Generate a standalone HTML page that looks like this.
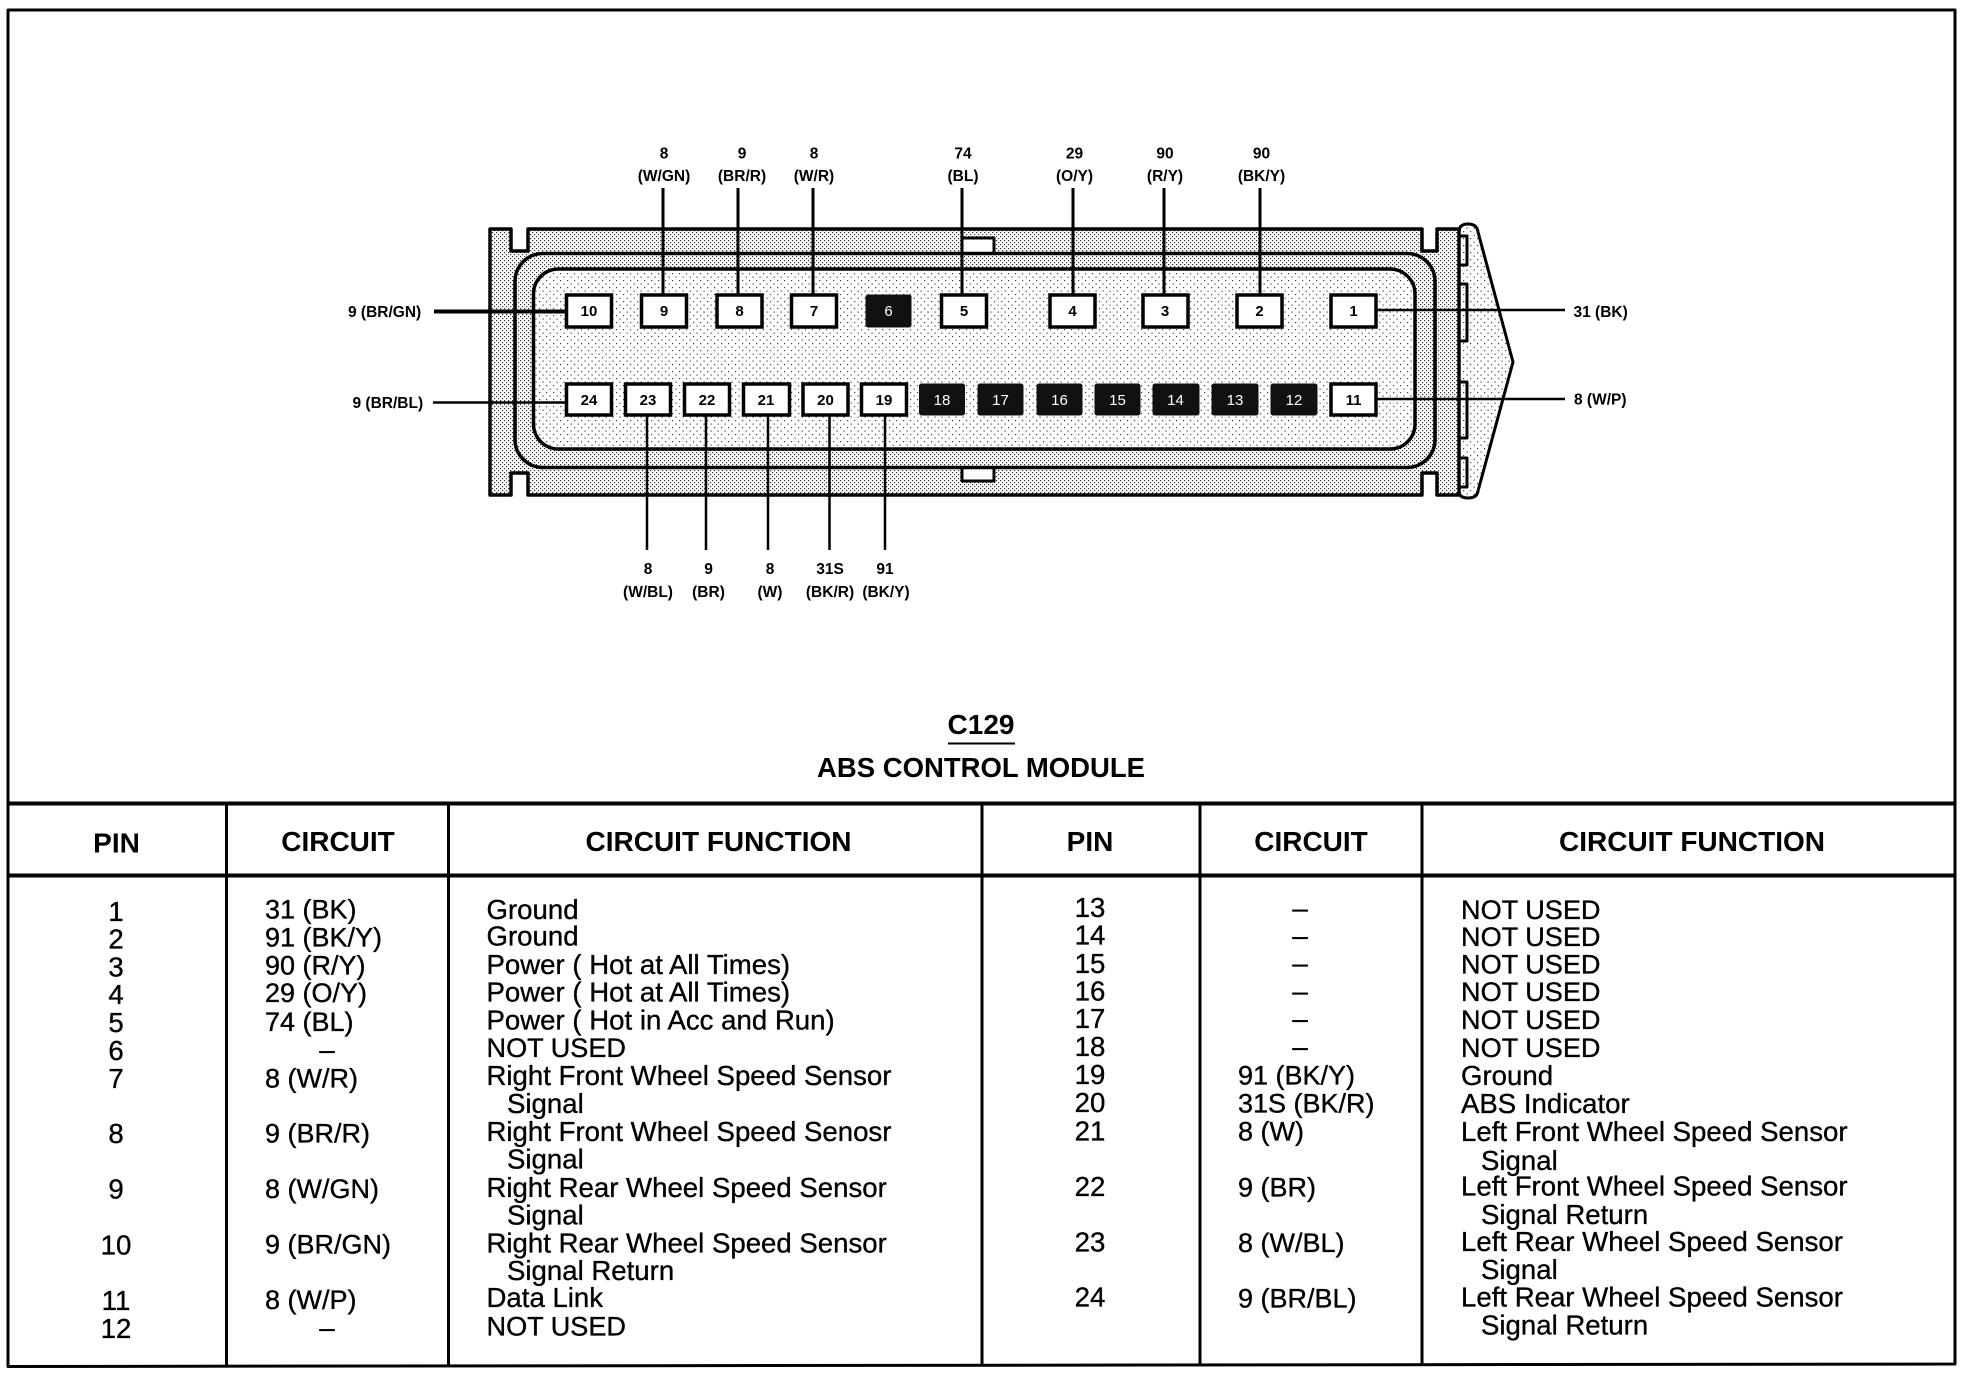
<!DOCTYPE html>
<html><head><meta charset="utf-8"><style>
html,body{margin:0;padding:0;background:#fff;width:1964px;height:1376px;overflow:hidden}
svg{display:block}
text{font-family:"Liberation Sans",sans-serif;fill:#000}
.b{font-size:27.6px;stroke:#000;stroke-width:.35}
.cc{font-size:27px}
.nu{font-size:27.1px}
.h{font-size:28px;font-weight:bold;text-anchor:middle}
.c{text-anchor:middle}
.l{font-size:15.5px;font-weight:bold;text-anchor:middle}
.ls{font-size:15.5px;font-weight:bold}
.p{font-size:15px;font-weight:bold;text-anchor:middle}
.w{font-size:15px;text-anchor:middle;fill:#fff}
.k{fill:#fff;stroke:#000;stroke-width:3.5}
.d{fill:#111;stroke:#111;stroke-width:1}
.n{fill:none;stroke:#000;stroke-linejoin:round}
</style></head><body>
<svg width="1964" height="1376" viewBox="0 0 1964 1376" xmlns="http://www.w3.org/2000/svg">
<defs>
<pattern id="dense" width="4" height="4" patternUnits="userSpaceOnUse"><rect width="4" height="4" fill="#fff"/><rect x="0" y="0" width="1.2" height="1.2" fill="#333"/><rect x="2" y="2" width="1.2" height="1.2" fill="#333"/></pattern>
<pattern id="sparse" width="7" height="7" patternUnits="userSpaceOnUse"><rect width="7" height="7" fill="#fff"/><rect x="0" y="0" width="1.2" height="1.2" fill="#444"/><rect x="3.5" y="3.5" width="1.2" height="1.2" fill="#444"/></pattern>
</defs>
<rect width="1964" height="1376" fill="#fff"/>

<!-- frame -->
<path class="n" stroke-width="3" d="M8 10H1955V1364L8 1366.5Z"/>
<path class="n" stroke-width="4" d="M8 803.5H1955M8 875.5H1955"/>
<path class="n" stroke-width="3" d="M226.5 803V1366M448.5 803V1366M982 803V1365M1200 803V1365M1422 803V1365"/>

<!-- connector -->
<path d="M1459 232Q1459 224 1468 224Q1477 224 1478 232L1513 362L1478 491Q1477 498 1468 498Q1459 498 1459 491Z" style="fill:url(#sparse)" class="n" stroke-width="3"/>
<path d="M490 229H511V251H528V229H1422V251H1437V229H1459V495H1437V473H1422V495H528V473H511V495H490Z" style="fill:url(#dense)" class="n" stroke-width="3.5"/>
<rect x="962" y="238" width="32" height="20" style="fill:#fff" class="n" stroke-width="3"/>
<rect x="962" y="462" width="32" height="19" style="fill:#fff" class="n" stroke-width="3"/>
<rect x="515" y="253.5" width="920" height="214" rx="28" style="fill:url(#dense)" class="n" stroke-width="3.5"/>
<rect x="533.5" y="269" width="881.5" height="180" rx="25" style="fill:url(#sparse)" class="n" stroke-width="3.5"/>
<path class="n" stroke-width="3" d="M1459 236H1467V265H1459M1459 284H1467V341H1459M1459 382H1467V438H1459M1459 458H1467V487H1459"/>

<!-- wires -->
<path class="n" stroke-width="3" d="M663 188V295M738 188V295M813 188V295M962 188V295M1073 188V295M1164 188V295M1260 188V295"/>
<path class="n" stroke-width="2.5" d="M647 415V550M706 415V550M768 415V550M829.5 415V550M885 415V550"/>
<path class="n" stroke-width="4" d="M434 311.5H567"/>
<path class="n" stroke-width="2.5" d="M433 402.5H567M1376 310H1565M1376 399H1565"/>

<!-- pins top -->
<rect class="k" x="566.5" y="295" width="45" height="32"/><text class="p" x="589" y="316">10</text>
<rect class="k" x="641.5" y="295" width="45" height="32"/><text class="p" x="664" y="316">9</text>
<rect class="k" x="717" y="295" width="45" height="32"/><text class="p" x="739.5" y="316">8</text>
<rect class="k" x="791.5" y="295" width="45" height="32"/><text class="p" x="814" y="316">7</text>
<rect class="d" x="866" y="295" width="45" height="32" rx="2"/><text class="w" x="888.5" y="316">6</text>
<rect class="k" x="941.5" y="295" width="45" height="32"/><text class="p" x="964" y="316">5</text>
<rect class="k" x="1050" y="295" width="45" height="32"/><text class="p" x="1072.5" y="316">4</text>
<rect class="k" x="1143" y="295" width="45" height="32"/><text class="p" x="1165" y="316">3</text>
<rect class="k" x="1237" y="295" width="45" height="32"/><text class="p" x="1259.5" y="316">2</text>
<rect class="k" x="1331" y="295" width="45" height="32"/><text class="p" x="1353.5" y="316">1</text>
<!-- pins bottom -->
<rect class="k" x="566.5" y="384" width="45" height="31"/><text class="p" x="589" y="405">24</text>
<rect class="k" x="625.5" y="384" width="45" height="31"/><text class="p" x="648" y="405">23</text>
<rect class="k" x="684.5" y="384" width="45" height="31"/><text class="p" x="707" y="405">22</text>
<rect class="k" x="743.5" y="384" width="46" height="31"/><text class="p" x="766" y="405">21</text>
<rect class="k" x="803" y="384" width="45" height="31"/><text class="p" x="825.5" y="405">20</text>
<rect class="k" x="861.5" y="384" width="45" height="31"/><text class="p" x="884" y="405">19</text>
<rect class="d" x="919.5" y="384" width="45" height="31" rx="2"/><text class="w" x="942" y="405">18</text>
<rect class="d" x="978" y="384" width="45" height="31" rx="2"/><text class="w" x="1000.5" y="405">17</text>
<rect class="d" x="1037" y="384" width="45" height="31" rx="2"/><text class="w" x="1059.5" y="405">16</text>
<rect class="d" x="1095" y="384" width="45" height="31" rx="2"/><text class="w" x="1117.5" y="405">15</text>
<rect class="d" x="1153" y="384" width="46" height="31" rx="2"/><text class="w" x="1175.5" y="405">14</text>
<rect class="d" x="1212" y="384" width="46" height="31" rx="2"/><text class="w" x="1235" y="405">13</text>
<rect class="d" x="1271" y="384" width="46" height="31" rx="2"/><text class="w" x="1294" y="405">12</text>
<rect class="k" x="1331" y="384" width="45" height="31"/><text class="p" x="1353.5" y="405">11</text>

<!-- wire labels -->
<text class="l" x="664" y="158.5">8</text><text class="l" x="664" y="181">(W/GN)</text>
<text class="l" x="742" y="158.5">9</text><text class="l" x="742" y="181">(BR/R)</text>
<text class="l" x="814" y="158.5">8</text><text class="l" x="814" y="181">(W/R)</text>
<text class="l" x="963" y="158.5">74</text><text class="l" x="963" y="181">(BL)</text>
<text class="l" x="1074.5" y="158.5">29</text><text class="l" x="1074.5" y="181">(O/Y)</text>
<text class="l" x="1165" y="158.5">90</text><text class="l" x="1165" y="181">(R/Y)</text>
<text class="l" x="1261.5" y="158.5">90</text><text class="l" x="1261.5" y="181">(BK/Y)</text>
<text class="l" x="648" y="574">8</text><text class="l" x="648" y="597">(W/BL)</text>
<text class="l" x="708.5" y="574">9</text><text class="l" x="708.5" y="597">(BR)</text>
<text class="l" x="770" y="574">8</text><text class="l" x="770" y="597">(W)</text>
<text class="l" x="830" y="574">31S</text><text class="l" x="830" y="597">(BK/R)</text>
<text class="l" x="885" y="574">91</text><text class="l" x="886" y="597">(BK/Y)</text>
<text class="ls" x="348" y="317">9 (BR/GN)</text>
<text class="ls" x="352.5" y="408">9 (BR/BL)</text>
<text class="ls" x="1573.5" y="317">31 (BK)</text>
<text class="ls" x="1574" y="404.5">8 (W/P)</text>

<!-- title -->
<text class="h" x="981" y="734">C129</text>
<path class="n" stroke-width="2" d="M948 743.5H1015"/>
<text class="h" x="981" y="777" style="font-size:27.5px">ABS CONTROL MODULE</text>

<!-- headers -->
<text class="h" x="116.5" y="852.5">PIN</text>
<text class="h" x="338" y="851">CIRCUIT</text>
<text class="h" x="718.5" y="851">CIRCUIT FUNCTION</text>
<text class="h" x="1090" y="851">PIN</text>
<text class="h" x="1311" y="851">CIRCUIT</text>
<text class="h" x="1692" y="851">CIRCUIT FUNCTION</text>

<!-- left pins -->
<text class="b c" x="116" y="921">1</text><text class="b c" x="116" y="948.5">2</text><text class="b c" x="116" y="976.5">3</text><text class="b c" x="116" y="1004">4</text><text class="b c" x="116" y="1032">5</text><text class="b c" x="116" y="1060">6</text><text class="b c" x="116" y="1088">7</text><text class="b c" x="116" y="1143">8</text><text class="b c" x="116" y="1198.5">9</text><text class="b c" x="116" y="1254.5">10</text><text class="b c" x="116" y="1310">11</text><text class="b c" x="116" y="1338">12</text>

<text class="b cc" x="265" y="918.5">31 (BK)</text><text class="b cc" x="265" y="946.5">91 (BK/Y)</text><text class="b cc" x="265" y="974.5">90 (R/Y)</text><text class="b cc" x="265" y="1002">29 (O/Y)</text><text class="b cc" x="265" y="1031">74 (BL)</text><text class="b c" x="327" y="1059">–</text><text class="b cc" x="265" y="1087.5">8 (W/R)</text><text class="b cc" x="265" y="1142.5">9 (BR/R)</text><text class="b cc" x="265" y="1198">8 (W/GN)</text><text class="b cc" x="265" y="1253.5">9 (BR/GN)</text><text class="b cc" x="265" y="1309">8 (W/P)</text><text class="b c" x="327" y="1337">–</text>

<text class="b" x="486.5" y="919">Ground</text>
<text class="b" x="486.5" y="945.5">Ground</text>
<text class="b" x="486.5" y="974">Power ( Hot at All Times)</text>
<text class="b" x="486.5" y="1001.5">Power ( Hot at All Times)</text>
<text class="b" x="486.5" y="1029.5">Power ( Hot in Acc and Run)</text>
<text class="b nu" x="486.5" y="1057">NOT USED</text>
<text class="b" x="486.5" y="1085">Right Front Wheel Speed Sensor</text>
<text class="b" x="507" y="1113">Signal</text>
<text class="b" x="486.5" y="1141">Right Front Wheel Speed Senosr</text>
<text class="b" x="507" y="1168.5">Signal</text>
<text class="b" x="486.5" y="1197">Right Rear Wheel Speed Sensor</text>
<text class="b" x="507" y="1224.5">Signal</text>
<text class="b" x="486.5" y="1252.5">Right Rear Wheel Speed Sensor</text>
<text class="b" x="507" y="1280">Signal Return</text>
<text class="b" x="486.5" y="1307">Data Link</text>
<text class="b nu" x="486.5" y="1335.5">NOT USED</text>

<!-- right pins -->
<text class="b c" x="1090" y="917">13</text><text class="b c" x="1090" y="944.5">14</text><text class="b c" x="1090" y="973">15</text><text class="b c" x="1090" y="1000.5">16</text><text class="b c" x="1090" y="1028">17</text><text class="b c" x="1090" y="1056">18</text><text class="b c" x="1090" y="1084">19</text><text class="b c" x="1090" y="1112">20</text><text class="b c" x="1090" y="1140.5">21</text><text class="b c" x="1090" y="1196">22</text><text class="b c" x="1090" y="1251.5">23</text><text class="b c" x="1090" y="1306.5">24</text>

<text class="b c" x="1300" y="917.5">–</text><text class="b c" x="1300" y="945">–</text><text class="b c" x="1300" y="972.5">–</text><text class="b c" x="1300" y="1000.5">–</text><text class="b c" x="1300" y="1028">–</text><text class="b c" x="1300" y="1056">–</text>
<text class="b cc" x="1238" y="1084.5">91 (BK/Y)</text><text class="b cc" x="1238" y="1112.5">31S (BK/R)</text><text class="b cc" x="1238" y="1140.5">8 (W)</text><text class="b cc" x="1238" y="1196.5">9 (BR)</text><text class="b cc" x="1238" y="1252">8 (W/BL)</text><text class="b cc" x="1238" y="1307.5">9 (BR/BL)</text>

<text class="b nu" x="1461" y="919">NOT USED</text>
<text class="b nu" x="1461" y="946">NOT USED</text>
<text class="b nu" x="1461" y="973.5">NOT USED</text>
<text class="b nu" x="1461" y="1001">NOT USED</text>
<text class="b nu" x="1461" y="1029">NOT USED</text>
<text class="b nu" x="1461" y="1057">NOT USED</text>
<text class="b" x="1461" y="1085">Ground</text>
<text class="b" x="1461" y="1113">ABS Indicator</text>
<text class="b" x="1461" y="1141">Left Front Wheel Speed Sensor</text>
<text class="b" x="1481" y="1170">Signal</text>
<text class="b" x="1461" y="1195.5">Left Front Wheel Speed Sensor</text>
<text class="b" x="1481" y="1224">Signal Return</text>
<text class="b" x="1461" y="1251">Left Rear Wheel Speed Sensor</text>
<text class="b" x="1481" y="1279">Signal</text>
<text class="b" x="1461" y="1306.5">Left Rear Wheel Speed Sensor</text>
<text class="b" x="1481" y="1334.5">Signal Return</text>
</svg>
</body></html>
